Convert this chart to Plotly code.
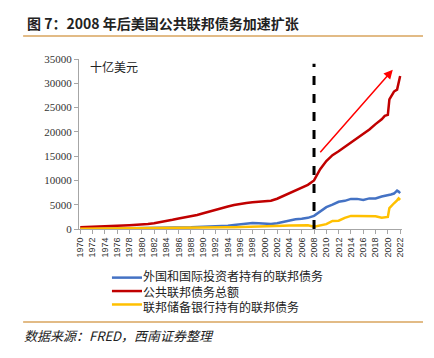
import plotly.graph_objects as go

years = list(range(1970, 2020)) + [2019.5, 2020.0, 2020.25, 2020.5, 2021.0, 2021.5, 2021.75, 2022.0]

total_debt = [380, 410, 440, 470, 490, 560, 640, 710, 780, 830,
              910, 1010, 1180, 1390, 1630, 1900, 2180, 2390, 2640, 2890,
              3230, 3600, 4010, 4350, 4640, 4920, 5180, 5370, 5500, 5650,
              5660, 5810, 6230, 6780, 7380, 7930, 8450, 9100, 10000, 12300,
              14000, 15200, 16000, 16900, 17800, 18700, 19500, 20500, 21600, 22600,
              23300, 23500, 26700, 27300, 28300, 28700, 29900, 31500]

foreign_held = [20, 35, 50, 55, 60, 70, 80, 100, 120, 125,
                130, 135, 140, 160, 190, 225, 260, 300, 350, 400,
                440, 490, 550, 610, 680, 820, 1000, 1200, 1250, 1200,
                1050, 1050, 1200, 1450, 1800, 2000, 2100, 2300, 2700, 3600,
                4500, 5000, 5600, 5800, 6200, 6200, 6000, 6300, 6300, 6700,
                6800, 6900, 7000, 7100, 7300, 7900, 7700, 7400]

fed_held = [60, 65, 70, 75, 80, 85, 95, 100, 110, 115,
            120, 130, 140, 150, 160, 180, 190, 200, 215, 225,
            235, 260, 290, 320, 350, 380, 400, 430, 450, 480,
            510, 550, 620, 680, 720, 740, 760, 780, 480, 780,
            1000, 1650, 1700, 2300, 2700, 2700, 2700, 2700, 2600, 2300,
            2400, 2500, 4300, 4700, 5300, 5900, 6300, 6000]

series_names = ["外国和国际投资者持有的联邦债务", "公共联邦债务总额", "联邦储备银行持有的联邦债务"]
series_colors = ["#4472C4", "#C00000", "#FFC000"]
x_ticks = list(range(1970, 2023, 2))
y_ticks = list(range(0, 35001, 5000))
marker_year = 2008
marker_top = 34000
arrow_start = (2008.8, 15500)
arrow_end = (2020.8, 32800)

fig = go.Figure()
for name, vals, col in zip(series_names, [foreign_held, total_debt, fed_held], series_colors):
    fig.add_trace(go.Scatter(x=years, y=vals, mode="lines", name=name,
                             line=dict(color=col, width=2.5), showlegend=False))

fig.add_shape(type="line", xref="x", yref="y", x0=marker_year, x1=marker_year,
              y0=0, y1=marker_top, line=dict(color="black", width=3, dash="dash"))
fig.add_annotation(xref="x", yref="y", axref="x", ayref="y",
                   x=arrow_end[0], y=arrow_end[1], ax=arrow_start[0], ay=arrow_start[1],
                   showarrow=True, arrowhead=2, arrowsize=1.2, arrowwidth=1.5,
                   arrowcolor="#FF0000", text="")

# title & footer
fig.add_annotation(xref="paper", yref="paper", x=-0.167, y=1.212, xanchor="left", yanchor="middle",
                   text="<b>图 7：2008 年后美国公共联邦债务加速扩张</b>", showarrow=False,
                   font=dict(family="Noto Sans CJK SC", size=14, color="#222222"))
fig.add_shape(type="line", xref="paper", yref="paper", x0=-0.173, x1=1.065, y0=1.135, y1=1.135,
              line=dict(color="#D9A55E", width=1.5))
fig.add_shape(type="line", xref="paper", yref="paper", x0=-0.173, x1=1.065, y0=-0.547, y1=-0.547,
              line=dict(color="#D9A55E", width=1.5))
fig.add_annotation(xref="paper", yref="paper", x=-0.175, y=-0.629, xanchor="left", yanchor="middle",
                   text="<i>数据来源：FRED，西南证券整理</i>", showarrow=False,
                   font=dict(family="Noto Sans CJK SC", size=13, color="#222222"))
fig.add_annotation(xref="paper", yref="paper", x=0.028, y=0.953, xanchor="left", yanchor="middle",
                   text="十亿美元", showarrow=False,
                   font=dict(family="Noto Sans CJK SC", size=12, color="#222222"))

# manual legend
leg_y = [-0.286, -0.365, -0.444]
for col, ly in zip(series_colors, leg_y):
    fig.add_shape(type="line", xref="paper", yref="paper", x0=0.102, x1=0.195, y0=ly, y1=ly,
                  line=dict(color=col, width=2.5))
fig.add_annotation(xref="paper", yref="paper", x=0.193, y=leg_y[1], xanchor="left", yanchor="middle",
                   align="left", text="<br>".join(series_names), showarrow=False,
                   font=dict(family="Noto Sans CJK SC", size=12, color="#222222"))

fig.update_layout(
    width=426, height=350,
    margin=dict(l=71, r=32, t=51, b=129),
    paper_bgcolor="white", plot_bgcolor="white",
    showlegend=False,
    xaxis=dict(range=[1969.8, 2022.3], tickvals=x_ticks, ticktext=[str(t) for t in x_ticks],
               tickangle=-90, showgrid=False, zeroline=False, showline=True,
               linecolor="#A6A6A6", linewidth=1, ticks="outside", ticklen=4, tickcolor="#A6A6A6",
               tickfont=dict(family="Liberation Sans", size=9, color="#333333")),
    yaxis=dict(range=[0, 35000], tickvals=y_ticks, ticktext=[str(t) for t in y_ticks],
               showgrid=False, zeroline=False, showline=True,
               linecolor="#A6A6A6", linewidth=1, ticks="outside", ticklen=4, tickcolor="#A6A6A6",
               tickfont=dict(family="Liberation Serif", size=11, color="#333333")),
)

fig.write_html("out.html")
